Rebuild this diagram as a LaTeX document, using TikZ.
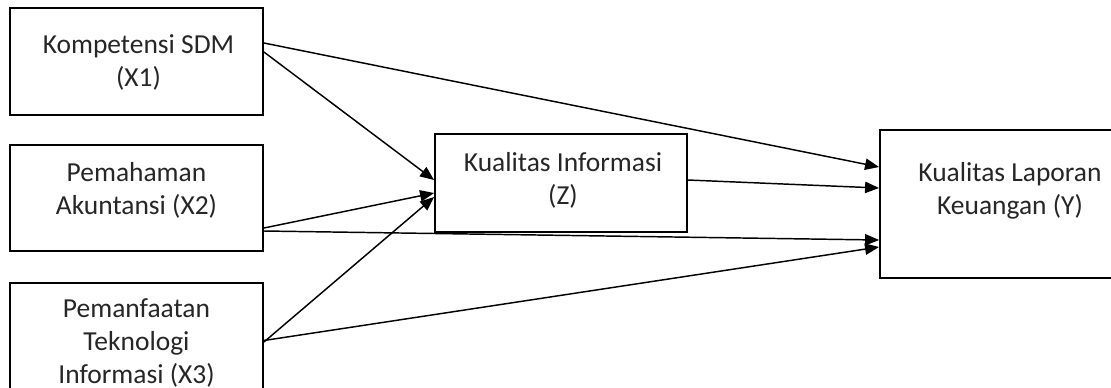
\documentclass[tikz,border=0pt]{standalone}
\usepackage{fontspec}
\setmainfont{Carlito}
\usetikzlibrary{arrows.meta}
\usetikzlibrary{calc}
\usetikzlibrary{fit}

\begin{document}
\begin{tikzpicture}[x=0.75pt, y=-0.75pt,
    kotak/.style={draw, line width=1.4pt, inner sep=0pt},
    teks/.style={align=center, anchor=north, inner sep=0pt, text=black!85,
      font=\fontsize{20.6}{24.8}\selectfont},
    panah/.style={line width=1.1pt, -{Triangle[length=10.5pt, width=8.5pt]}}]
    \useasboundingbox (0,0) rectangle (1111,387);
    \clip (0,0) rectangle (1111,387);
    % kotak variabel
    \node [kotak, fit={(10,8) (263,115)}] (x1) {};
    \node [kotak, fit={(10,145) (263,251)}] (x2) {};
    \node [kotak, fit={(10,283) (263,400)}] (x3) {};
    \node [kotak, fit={(435,134) (687,232)}] (z) {};
    \node [kotak, fit={(880,130) (1140,278)}] (y) {};
    % teks
    \node [teks] (tx1) at ($(x1.north)+(2,27)$) {Kompetensi SDM\\(X1)};
    \node [teks] (tx2) at ($(x2.north)+(0,18)$) {Pemahaman\\Akuntansi (X2)};
    \node [teks] (tx3) at ($(x3.north)+(0,16)$) {Pemanfaatan\\Teknologi\\Informasi (X3)};
    \node [teks] (tz) at ($(z.north)+(2,19)$) {Kualitas Informasi\\(Z)};
    \node [teks] (ty) at ($(y.north)+(0,33)$) {Kualitas Laporan\\Keuangan (Y)};
    % panah
    \draw [panah] ($(x1.east)+(0,-18.5)$) -- ($(y.west)+(0,-37)$);
    \draw [panah] ($(x1.east)+(0,-9.5)$) -- ($(z.west)+(0,-3)$);
    \draw [panah] ($(x2.east)+(0,30)$) -- ($(z.west)+(0,10)$);
    \draw [panah] ($(x2.east)+(0,33)$) -- ($(y.west)+(0,36)$);
    \draw [panah] ($(x3.east)+(0,0.5)$) -- ($(z.west)+(0,14)$);
    \draw [panah] ($(x3.east)+(0,-1)$) -- ($(y.west)+(0,43)$);
    \draw [panah] ($(z.east)+(0,-3)$) -- ($(y.west)+(0,-16)$);
\end{tikzpicture}
\end{document}
